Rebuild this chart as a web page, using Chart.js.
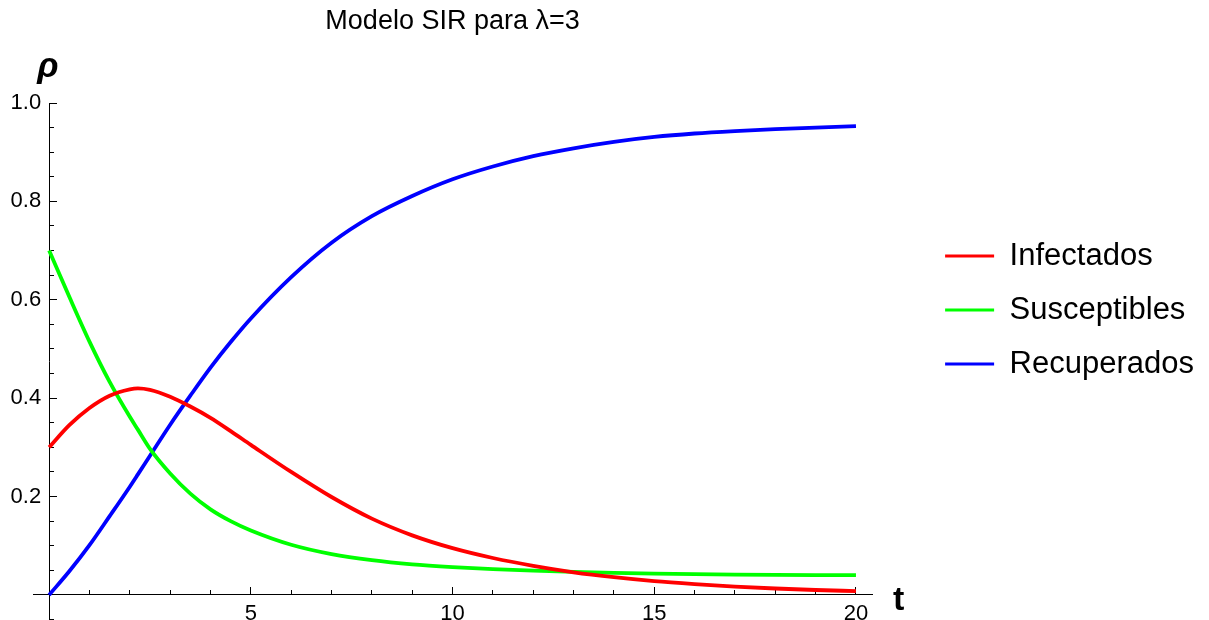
<!DOCTYPE html>
<html>
<head>
<meta charset="utf-8">
<script src="https://cdn.jsdelivr.net/npm/chart.js@4"></script>
<style>
html, body { margin: 0; padding: 0; background: #ffffff; }
#wrap { width: 1209px; height: 620px; }
</style>
</head>
<body>
<div id="wrap"><canvas id="c" width="1209" height="620"></canvas></div>
<script>
// ---- data ----
const tValues      = [0, 0.5, 1, 1.5, 2, 2.2, 2.5, 3, 3.5, 4, 4.5, 5, 6, 7, 8, 9, 10, 11, 12, 13, 14, 15, 16, 17, 18, 19, 20];
const infectados   = [0.300, 0.345, 0.380, 0.405, 0.418, 0.420, 0.417, 0.403, 0.383, 0.360, 0.333, 0.305, 0.250, 0.199, 0.155, 0.121, 0.095, 0.075, 0.059, 0.046, 0.036, 0.028, 0.022, 0.017, 0.013, 0.010, 0.0077];
const susceptibles = [0.700, 0.606, 0.515, 0.433, 0.362, 0.336, 0.297, 0.247, 0.206, 0.174, 0.150, 0.131, 0.102, 0.083, 0.0705, 0.062, 0.0565, 0.0525, 0.0493, 0.0468, 0.0448, 0.0433, 0.0422, 0.0414, 0.0408, 0.0404, 0.0401];
const recuperados  = [0.000, 0.048, 0.101, 0.160, 0.220, 0.245, 0.283, 0.346, 0.405, 0.462, 0.514, 0.562, 0.646, 0.716, 0.770, 0.811, 0.845, 0.871, 0.892, 0.908, 0.921, 0.931, 0.938, 0.943, 0.947, 0.950, 0.953];
const seriesNames  = ['Infectados', 'Susceptibles', 'Recuperados'];
const seriesColors = ['#ff0000', '#00ff00', '#0000ff'];
const xLabeledTicks = [5, 10, 15, 20];
const yLabeledTicks = [0.2, 0.4, 0.6, 0.8, 1.0];
const titleText = 'Modelo SIR para λ=3';
const xAxisName = 't';
const yAxisName = 'ρ';

const FONT = '"Liberation Sans", Arial, sans-serif';

function toPoints(ys) { return tValues.map((t, i) => ({ x: t, y: ys[i] })); }
const seriesValues = [infectados, susceptibles, recuperados];

const datasets = seriesNames.map((name, i) => ({
  label: name,
  data: toPoints(seriesValues[i]),
  borderColor: seriesColors[i],
  backgroundColor: seriesColors[i],
  borderWidth: 3.8,
  pointRadius: 0,
  fill: false,
  cubicInterpolationMode: 'monotone',
  xAxisID: 'x',
  yAxisID: 'y'
}));

const axisNamePlugin = {
  id: 'axisNames',
  afterDraw(chart) {
    const ctx = chart.ctx;
    const xs = chart.scales.x, ys = chart.scales.y;
    ctx.save();
    ctx.fillStyle = '#000';
    ctx.textAlign = 'left';
    ctx.textBaseline = 'alphabetic';
    ctx.font = 'italic bold 35px ' + FONT;
    ctx.fillText(yAxisName, xs.getPixelForValue(0) - 12, ys.getPixelForValue(1) - 26);
    ctx.font = 'bold 34px ' + FONT;
    ctx.fillText(xAxisName, chart.chartArea.right + 21, ys.getPixelForValue(0) + 15);
    ctx.restore();
  }
};

const isMultiple = (v, step) => Math.abs(v / step - Math.round(v / step)) < 1e-6;

function axisGrid(majorStep) {
  return {
    display: true, drawOnChartArea: false, drawTicks: true, tickLength: -8,
    tickColor: '#000', tickWidth: 1,
    tickBorderDash: (ctx) => (ctx.tick && isMultiple(ctx.tick.value, majorStep)) ? [] : [5, 40]
  };
}

new Chart(document.getElementById('c'), {
  type: 'line',
  data: { datasets },
  options: {
    responsive: false,
    animation: false,
    devicePixelRatio: 1,
    layout: { padding: { left: 33, right: 5, top: 0, bottom: 0 } },
    plugins: {
      title: {
        display: true, text: titleText, fullSize: false, color: '#000',
        font: { family: FONT, size: 27, weight: 'normal', lineHeight: 1.2 },
        padding: { top: 5, bottom: 65.6 }
      },
      legend: {
        position: 'right', align: 'center',
        labels: {
          boxWidth: 49, boxHeight: 3, padding: 23, color: '#000',
          font: { family: FONT, size: 31 },
          generateLabels: (chart) => chart.data.datasets.map((ds, i) => ({
            text: ds.label, fillStyle: ds.borderColor, strokeStyle: ds.borderColor,
            lineWidth: 0, hidden: false, datasetIndex: i, fontColor: '#000'
          }))
        }
      },
      tooltip: { enabled: false }
    },
    scales: {
      x: {
        type: 'linear', axis: 'x', min: -0.4, max: 20.4, position: { y: 0 },
        ticks: {
          stepSize: 1, includeBounds: false, autoSkip: false, maxRotation: 0, minRotation: 0,
          color: '#000', padding: 14,
          font: { family: FONT, size: 22 },
          callback: (v) => xLabeledTicks.includes(v) ? String(v) : ''
        },
        grid: axisGrid(5),
        border: { display: true, color: '#000', width: 1 }
      },
      y: {
        type: 'linear', axis: 'y', min: -0.0508, max: 1.0, position: { x: 0 },
        ticks: {
          stepSize: 0.05, includeBounds: false, autoSkip: false, color: '#000', padding: 0,
          font: { family: FONT, size: 22, lineHeight: 0.01 },
          callback: (v) => yLabeledTicks.some(l => Math.abs(l - v) < 1e-6) ? v.toFixed(1) + ' \u200A' : ''
        },
        grid: axisGrid(0.2),
        border: { display: true, color: '#000', width: 1 }
      },
      gap: {
        type: 'linear', axis: 'y', position: 'right', display: false, min: 0, max: 1,
        afterFit: (s) => { s.width = 50; }
      }
    }
  },
  plugins: [axisNamePlugin]
});
</script>
</body>
</html>
